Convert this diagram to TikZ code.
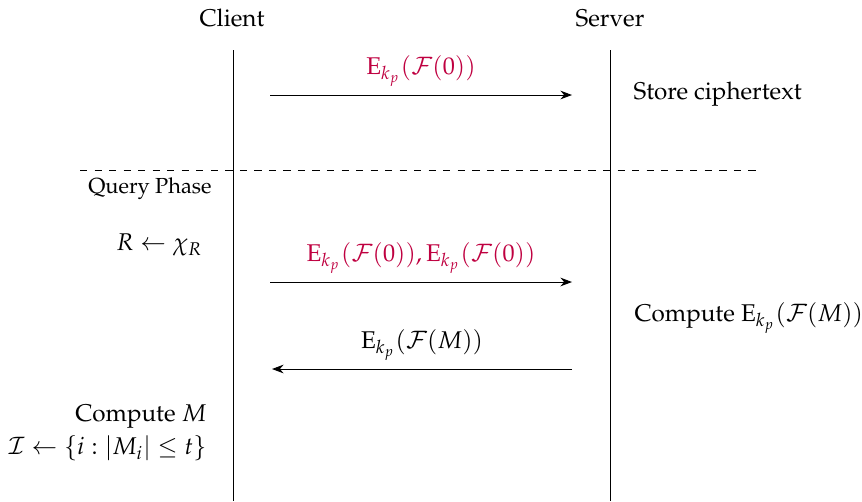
\documentclass[tikz,border=0pt]{standalone}
\usepackage{amsmath,amssymb}
\usepackage[T1]{fontenc}
\usepackage{mathpazo}
\usepackage{tikz}
\usetikzlibrary{arrows.meta,positioning}
\usepackage{xcolor}

\begin{document}
\begin{tikzpicture}[
    x=0.413pt, y=-0.413pt,
    party/.style={font=\normalsize},
    lifeline/.style={draw, thin},
    msg/.style={->, >=Stealth},
    msglabel/.style={font=\normalsize, text=purple},
    note/.style={font=\normalsize, align=left, anchor=west},
    clientnote/.style={font=\normalsize, align=right, anchor=east}
  ]
  \useasboundingbox (0,0) rectangle (862,501);
  % parties
  \node[party] (client) at (232, 18) {Client};
  \node[party] (server) at (610, 18) {Server};
  \coordinate (ctop) at (233, 50);
  \coordinate (cbot) at (233, 501);
  \coordinate (stop) at (610, 50);
  \coordinate (sbot) at (610, 501);
  \draw[lifeline] (ctop) -- (cbot);
  \draw[lifeline] (stop) -- (sbot);

  % setup
  \coordinate (a1) at (270, 95);
  \coordinate (b1) at (572, 95);
  \draw[msg] (a1) -- (b1) node[midway, above=0pt, msglabel] {$\mathrm{E}_{k_p}(\mathcal{F}(0))$};
  \node[note] (store) at (625, 94) {Store ciphertext};

  % phase separator
  \coordinate (dl) at (80, 170);
  \coordinate (dr) at (762, 170);
  \draw[dashed] (dl) -- (dr);
  \node[font=\small] (phase) at (150, 189) {Query Phase};

  % query
  \node[clientnote] (rand) at (211, 245) {$R \leftarrow \chi_R$};
  \coordinate (a2) at (270, 282);
  \coordinate (b2) at (572, 282);
  \draw[msg] (a2) -- (b2) node[midway, above=0pt, msglabel] {$\mathrm{E}_{k_p}(\mathcal{F}(0)), \mathrm{E}_{k_p}(\mathcal{F}(0))$};
  \node[note] (comp) at (626, 318) {Compute $\mathrm{E}_{k_p}(\mathcal{F}(M))$};

  % answer
  \coordinate (a3) at (572, 369);
  \coordinate (b3) at (272, 369);
  \draw[msg] (a3) -- (b3) node[midway, above=0pt, font=\normalsize] {$\mathrm{E}_{k_p}(\mathcal{F}(M))$};
  \node[clientnote] (res) at (215, 433) {Compute $M$\\[1.5pt] $\mathcal{I} \leftarrow \{i : |M_i| \leq t\}$};
\end{tikzpicture}
\end{document}
